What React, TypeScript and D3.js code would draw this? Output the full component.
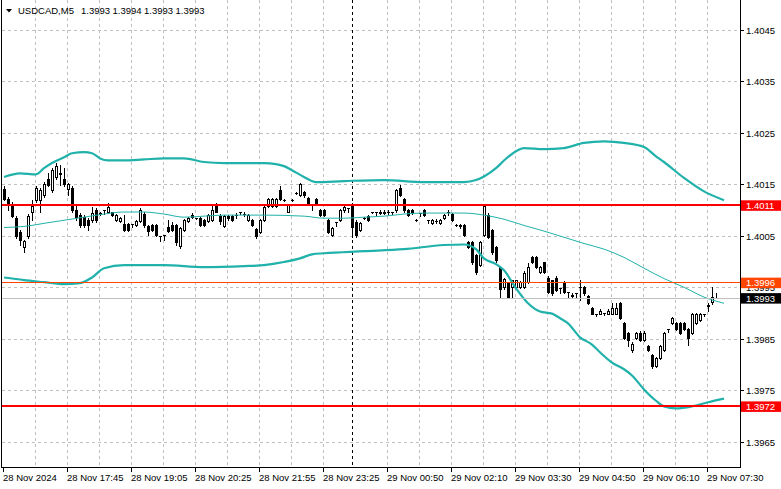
import React from "react";
import * as d3 from "d3";

const symbolTitle = "USDCAD,M5";
const titleValues = ["1.3993", "1.3994", "1.3993", "1.3993"];

// [open, high, low, close]
const candles: [number, number, number, number][] = [
  [1.40141,1.40147,1.40120,1.40122],[1.40122,1.40126,1.40100,1.40112],[1.40112,1.40116,1.40087,1.40089],[1.40085,1.40089,1.40046,1.40050],[1.40058,1.40062,1.40033,1.40042],
  [1.40029,1.40042,1.40019,1.40040],[1.40050,1.40093,1.40046,1.40089],[1.40098,1.40120,1.40081,1.40108],[1.40120,1.40147,1.40116,1.40143],[1.40120,1.40143,1.40097,1.40139],
  [1.40130,1.40155,1.40126,1.40151],[1.40161,1.40172,1.40147,1.40149],[1.40139,1.40182,1.40135,1.40178],[1.40165,1.40192,1.40161,1.40186],[1.40170,1.40188,1.40149,1.40172],
  [1.40161,1.40182,1.40147,1.40151],[1.40141,1.40153,1.40130,1.40151],[1.40143,1.40147,1.40097,1.40100],[1.40100,1.40108,1.40081,1.40087],[1.40091,1.40095,1.40067,1.40071],
  [1.40087,1.40091,1.40067,1.40071],[1.40081,1.40085,1.40062,1.40071],[1.40081,1.40106,1.40077,1.40095],[1.40100,1.40104,1.40077,1.40081],[1.40095,1.40098,1.40091,1.40093],
  [1.40100,1.40100,1.40093,1.40100],[1.40097,1.40114,1.40095,1.40106],[1.40097,1.40098,1.40089,1.40091],[1.40081,1.40093,1.40079,1.40091],[1.40079,1.40087,1.40077,1.40085],
  [1.40073,1.40091,1.40060,1.40062],[1.40073,1.40075,1.40060,1.40062],[1.40073,1.40073,1.40067,1.40073],[1.40071,1.40081,1.40069,1.40079],[1.40079,1.40104,1.40077,1.40100],
  [1.40093,1.40097,1.40067,1.40071],[1.40069,1.40071,1.40052,1.40060],[1.40071,1.40073,1.40060,1.40062],[1.40071,1.40073,1.40050,1.40052],[1.40050,1.40050,1.40040,1.40050],
  [1.40052,1.40052,1.40042,1.40052],[1.40067,1.40081,1.40058,1.40060],[1.40071,1.40077,1.40060,1.40062],[1.40071,1.40073,1.40034,1.40038],[1.40031,1.40067,1.40027,1.40066],
  [1.40062,1.40083,1.40060,1.40081],[1.40079,1.40087,1.40077,1.40085],[1.40091,1.40095,1.40085,1.40087],[1.40085,1.40085,1.40083,1.40085],[1.40085,1.40087,1.40069,1.40071],
  [1.40081,1.40083,1.40069,1.40071],[1.40079,1.40093,1.40077,1.40091],[1.40081,1.40110,1.40079,1.40100],[1.40108,1.40114,1.40097,1.40098],[1.40089,1.40093,1.40073,1.40079],
  [1.40069,1.40091,1.40067,1.40089],[1.40089,1.40091,1.40081,1.40085],[1.40089,1.40091,1.40079,1.40081],[1.40091,1.40095,1.40085,1.40091],[1.40098,1.40098,1.40093,1.40098],
  [1.40093,1.40097,1.40089,1.40093],[1.40081,1.40093,1.40079,1.40091],[1.40081,1.40083,1.40069,1.40071],[1.40064,1.40066,1.40046,1.40050],[1.40058,1.40083,1.40056,1.40081],
  [1.40081,1.40108,1.40079,1.40106],[1.40108,1.40124,1.40106,1.40122],[1.40108,1.40124,1.40106,1.40122],[1.40108,1.40124,1.40106,1.40122],[1.40139,1.40147,1.40120,1.40122],
  [1.40120,1.40122,1.40118,1.40120],[1.40098,1.40112,1.40097,1.40110],[1.40120,1.40122,1.40118,1.40120],[1.40133,1.40135,1.40131,1.40133],[1.40130,1.40153,1.40128,1.40151],
  [1.40135,1.40137,1.40126,1.40130],[1.40124,1.40126,1.40112,1.40114],[1.40112,1.40112,1.40100,1.40112],[1.40122,1.40124,1.40112,1.40114],[1.40100,1.40102,1.40089,1.40091],
  [1.40100,1.40102,1.40089,1.40091],[1.40081,1.40083,1.40056,1.40058],[1.40052,1.40067,1.40050,1.40066],[1.40077,1.40077,1.40069,1.40077],[1.40081,1.40102,1.40079,1.40100],
  [1.40100,1.40108,1.40098,1.40106],[1.40104,1.40104,1.40097,1.40104],[1.40110,1.40114,1.40048,1.40067],[1.40077,1.40081,1.40048,1.40052],[1.40062,1.40077,1.40060,1.40075],
  [1.40085,1.40087,1.40083,1.40085],[1.40089,1.40091,1.40079,1.40081],[1.40097,1.40098,1.40095,1.40097],[1.40097,1.40097,1.40091,1.40097],[1.40095,1.40100,1.40093,1.40098],
  [1.40095,1.40100,1.40093,1.40098],[1.40097,1.40100,1.40093,1.40097],[1.40098,1.40098,1.40093,1.40098],[1.40100,1.40141,1.40098,1.40139],[1.40143,1.40149,1.40128,1.40130],
  [1.40122,1.40124,1.40098,1.40100],[1.40100,1.40102,1.40089,1.40091],[1.40100,1.40102,1.40093,1.40095],[1.40081,1.40083,1.40079,1.40081],[1.40095,1.40095,1.40089,1.40095],
  [1.40100,1.40102,1.40089,1.40091],[1.40081,1.40081,1.40075,1.40081],[1.40075,1.40083,1.40073,1.40081],[1.40079,1.40083,1.40075,1.40079],[1.40075,1.40083,1.40073,1.40081],
  [1.40085,1.40093,1.40083,1.40091],[1.40097,1.40100,1.40091,1.40097],[1.40093,1.40095,1.40079,1.40081],[1.40071,1.40073,1.40069,1.40071],[1.40071,1.40073,1.40066,1.40069],
  [1.40071,1.40073,1.40050,1.40052],[1.40038,1.40040,1.40027,1.40029],[1.40038,1.40040,1.39996,1.40000],[1.40013,1.40015,1.39976,1.39980],[1.39994,1.40040,1.39992,1.40038],
  [1.40052,1.40112,1.40050,1.40108],[1.40091,1.40095,1.40046,1.40048],[1.40062,1.40064,1.40015,1.40019],[1.40029,1.40031,1.40000,1.40003],[1.39990,1.39992,1.39932,1.39947],
  [1.39951,1.39970,1.39947,1.39968],[1.39959,1.39961,1.39930,1.39932],[1.39951,1.39966,1.39932,1.39965],[1.39951,1.39966,1.39949,1.39965],[1.39951,1.39963,1.39949,1.39961],
  [1.39951,1.39982,1.39949,1.39978],[1.39961,1.39998,1.39959,1.39990],[1.40009,1.40011,1.39998,1.40000],[1.40009,1.40011,1.39988,1.39990],[1.39980,1.39992,1.39978,1.39990],
  [1.40000,1.40001,1.39978,1.39980],[1.39970,1.39972,1.39939,1.39941],[1.39965,1.39966,1.39937,1.39939],[1.39970,1.39972,1.39943,1.39945],[1.39949,1.39949,1.39939,1.39949],
  [1.39961,1.39963,1.39939,1.39941],[1.39941,1.39941,1.39932,1.39941],[1.39937,1.39939,1.39930,1.39935],[1.39939,1.39939,1.39932,1.39939],[1.39951,1.39965,1.39926,1.39951],
  [1.39951,1.39953,1.39937,1.39939],[1.39935,1.39937,1.39918,1.39920],[1.39910,1.39912,1.39899,1.39900],[1.39900,1.39900,1.39895,1.39900],[1.39900,1.39908,1.39899,1.39906],
  [1.39902,1.39902,1.39897,1.39902],[1.39900,1.39908,1.39899,1.39906],[1.39900,1.39920,1.39899,1.39910],[1.39900,1.39920,1.39899,1.39910],[1.39920,1.39922,1.39889,1.39891],
  [1.39881,1.39883,1.39850,1.39852],[1.39862,1.39864,1.39838,1.39848],[1.39829,1.39844,1.39825,1.39842],[1.39852,1.39864,1.39850,1.39862],[1.39862,1.39867,1.39846,1.39848],
  [1.39848,1.39867,1.39846,1.39862],[1.39838,1.39840,1.39827,1.39829],[1.39819,1.39821,1.39795,1.39799],[1.39799,1.39815,1.39797,1.39813],[1.39813,1.39840,1.39811,1.39838],
  [1.39829,1.39864,1.39827,1.39862],[1.39871,1.39871,1.39864,1.39871],[1.39881,1.39893,1.39879,1.39891],[1.39881,1.39883,1.39869,1.39871],[1.39881,1.39883,1.39860,1.39862],
  [1.39881,1.39883,1.39869,1.39871],[1.39871,1.39873,1.39840,1.39852],[1.39862,1.39902,1.39860,1.39900],[1.39881,1.39902,1.39879,1.39900],[1.39887,1.39902,1.39885,1.39900],
  [1.39900,1.39900,1.39895,1.39900],[1.39914,1.39920,1.39906,1.39916],[1.39922,1.39951,1.39918,1.39932],[1.39930,1.39940,1.39930,1.39930],
];

// Bollinger bands, read at sampled bars
const upperBandBars = [0,4,8,10,12,15,17,20,22,24,26,30,35,40,45,50,55,60,65,68,70,72,75,78,85,95,105,115,118,120,123,125,128,130,135,140,145,150,155,160,163,165,170,175,180];
const upperBand = [1.40165,1.40172,1.40170,1.40182,1.40192,1.40203,1.40211,1.40213,1.40211,1.40201,1.40197,1.40197,1.40199,1.40201,1.40201,1.40194,1.40192,1.40192,1.40192,1.40190,1.40186,1.40178,1.40165,1.40155,1.40157,1.40159,1.40155,1.40155,1.40159,1.40166,1.40182,1.40197,1.40215,1.40221,1.40219,1.40221,1.40231,1.40234,1.40231,1.40223,1.40205,1.40194,1.40163,1.40137,1.40120];
const middleBandBars = [0,5,10,15,20,25,30,35,40,45,50,55,65,75,80,85,90,95,100,105,110,115,120,125,130,135,140,145,150,155,160,165,170,175,180];
const middleBand = [1.40067,1.40069,1.40075,1.40081,1.40087,1.40093,1.40097,1.40097,1.40093,1.40087,1.40089,1.40091,1.40091,1.40089,1.40085,1.40085,1.40087,1.40089,1.40093,1.40095,1.40095,1.40095,1.40091,1.40083,1.40071,1.40060,1.40048,1.40036,1.40025,1.40009,1.39988,1.39968,1.39951,1.39932,1.39920];
const lowerBandBars = [0,5,10,15,19,22,25,30,40,50,60,65,70,74,77,80,90,100,110,115,118,120,123,125,128,131,134,137,139,141,144,147,149,152,155,157,160,163,165,168,172,176,180];
const lowerBand = [1.39970,1.39965,1.39961,1.39957,1.39959,1.39970,1.39988,1.39994,1.39994,1.39990,1.39992,1.39994,1.40000,1.40007,1.40015,1.40017,1.40021,1.40025,1.40033,1.40034,1.40025,1.40007,1.39996,1.39984,1.39949,1.39920,1.39904,1.39900,1.39891,1.39881,1.39854,1.39840,1.39825,1.39805,1.39792,1.39780,1.39753,1.39731,1.39720,1.39716,1.39720,1.39728,1.39735];

const timeLabels = ["28 Nov 2024","28 Nov 17:45","28 Nov 19:05","28 Nov 20:25","28 Nov 21:55","28 Nov 23:25","29 Nov 00:50","29 Nov 02:10","29 Nov 03:30","29 Nov 04:50","29 Nov 06:10","29 Nov 07:30"];
const timeLabelBars = [0,16,32,48,64,80,96,112,128,144,160,176];
const priceTicks = [1.4045,1.4035,1.4025,1.4015,1.4005,1.3995,1.3985,1.3975,1.3965];
const separatorBar = 87;
const redLevels = [1.4011, 1.3972];
const orangeLevel = 1.3996;
const bidLevel = 1.3993;

const W = 781, H = 489;
const RIGHT = 740, BOTTOM = 467;
const FONT = "'Liberation Sans', Arial, sans-serif";
const TEAL = "#20B2AA";

export default function App() {
  const x = d3.scaleLinear().domain([0, 1]).range([4, 8]);
  const y = d3.scaleLinear().domain([1.3965, 1.4045]).range([442.5, 30]);
  const yp = (v: number) => Math.round(y(v));
  const crisp = (v: number) => Math.floor(v) + 0.5;

  const mkLine = (bars: number[], vals: number[]) =>
    d3.line<number>().x((_, i) => x(bars[i])).y((v) => y(v)).curve(d3.curveMonotoneX)(vals) || "";

  const gridXs: number[] = [];
  for (let k = 1; k <= 22; k++) {
    if (k === 11) continue;
    gridXs.push(Math.round(x(8 * k)) - 1);
  }

  const levelLabel = (p: number, bg: string, color: string, text: string, key: string) => {
    const c = y(p);
    return (
      <g key={key}>
        <rect x={741} y={c - 5} width={40} height={10.5} fill={bg} />
        <text x={746} y={c + 3.5} fontSize={9.5} fontFamily={FONT} fill={color}>{text}</text>
      </g>
    );
  };

  return (
    <div style={{ position: "absolute", left: 0, top: 0 }}>
      <svg width={W} height={H} viewBox={`0 0 ${W} ${H}`} style={{ display: "block", background: "#fff" }}>
        <rect x={0} y={0} width={W} height={H} fill="#fff" />
        {/* grid */}
        <g shapeRendering="crispEdges" stroke="#c0c0c0" strokeDasharray="3,3" strokeWidth={1}>
          {priceTicks.map((p) => (
            <line key={"h" + p} x1={2} x2={RIGHT} y1={crisp(y(p))} y2={crisp(y(p))} />
          ))}
          {gridXs.map((gx) => (
            <line key={"v" + gx} x1={gx + 0.5} x2={gx + 0.5} y1={0} y2={BOTTOM} />
          ))}
        </g>
        {/* day separator */}
        <line x1={Math.round(x(separatorBar)) + 0.5} x2={Math.round(x(separatorBar)) + 0.5} y1={0} y2={BOTTOM}
          stroke="#000" strokeDasharray="3,3" shapeRendering="crispEdges" />
        {/* candles */}
        <g shapeRendering="crispEdges">
          {candles.map(([o, h, l, c], i) => {
            const cx = Math.round(x(i));
            const top = yp(Math.max(o, c));
            const bot = yp(Math.min(o, c));
            const hi = yp(h), lo = yp(l);
            const bull = c > o;
            return (
              <g key={i}>
                <line x1={cx + 0.5} x2={cx + 0.5} y1={hi} y2={lo + 1} stroke="#000" />
                {bot - top < 1 ? (
                  <rect x={cx - 1} y={top} width={3} height={1} fill="#000" />
                ) : bull ? (
                  <rect x={cx - 0.5} y={top + 0.5} width={2} height={bot - top} fill="#fff" stroke="#000" />
                ) : (
                  <rect x={cx - 1} y={top} width={3} height={bot - top + 1} fill="#000" />
                )}
              </g>
            );
          })}
        </g>
        {/* bollinger bands */}
        <path d={mkLine(upperBandBars, upperBand)} fill="none" stroke={TEAL} strokeWidth={2.2} />
        <path d={mkLine(middleBandBars, middleBand)} fill="none" stroke={TEAL} strokeWidth={1} />
        <path d={mkLine(lowerBandBars, lowerBand)} fill="none" stroke={TEAL} strokeWidth={2.2} />
        {/* level lines */}
        <g shapeRendering="crispEdges">
          <line x1={2} x2={RIGHT} y1={crisp(y(bidLevel))} y2={crisp(y(bidLevel))} stroke="#c0c0c0" />
          <line x1={2} x2={RIGHT} y1={crisp(y(orangeLevel))} y2={crisp(y(orangeLevel))} stroke="#ff4500" />
          {redLevels.map((p) => (
            <line key={"r" + p} x1={2} x2={RIGHT} y1={Math.round(y(p))} y2={Math.round(y(p))} stroke="#ff0000" strokeWidth={2} />
          ))}
        </g>
        {/* frame */}
        <g shapeRendering="crispEdges" stroke="#000">
          <line x1={1.5} x2={1.5} y1={0} y2={BOTTOM + 1} />
          <line x1={RIGHT + 0.5} x2={RIGHT + 0.5} y1={0} y2={BOTTOM + 1} />
          <line x1={1.5} x2={RIGHT + 0.5} y1={BOTTOM + 0.5} y2={BOTTOM + 0.5} />
          {priceTicks.map((p) => (
            <line key={"t" + p} x1={RIGHT} x2={RIGHT + 4} y1={crisp(y(p))} y2={crisp(y(p))} />
          ))}
          {timeLabelBars.map((b) => (
            <line key={"bt" + b} x1={Math.round(x(b)) - 0.5} x2={Math.round(x(b)) - 0.5} y1={BOTTOM} y2={BOTTOM + 5} />
          ))}
        </g>
        {/* price axis labels */}
        {priceTicks.map((p) => (
          <text key={"pl" + p} x={746} y={y(p) + 3.5} fontSize={9.5} fontFamily={FONT} fill="#000">{p.toFixed(4)}</text>
        ))}
        {redLevels.map((p) => levelLabel(p, "#ff0000", "#fff", p.toFixed(4), "rl" + p))}
        {levelLabel(orangeLevel, "#ff4500", "#fff", orangeLevel.toFixed(4), "ol")}
        {levelLabel(bidLevel, "#000", "#fff", bidLevel.toFixed(4), "bl")}
        {/* time labels */}
        {timeLabels.map((t, k) => (
          <text key={"tl" + k} x={Math.round(x(timeLabelBars[k])) - 1} y={481} fontSize={9.5} fontFamily={FONT} fill="#000">{t}</text>
        ))}
        {/* title */}
        <polygon points="6,9 12,9 9,12.5" fill="#000" />
        <text x={18} y={14} fontSize={9.5} fontFamily={FONT} fill="#000">{symbolTitle}</text>
        {titleValues.map((v, k) => (
          <text key={"tv" + k} x={81 + k * 31.5} y={14} fontSize={9.5} fontFamily={FONT} fill="#000">{v}</text>
        ))}
      </svg>
    </div>
  );
}
